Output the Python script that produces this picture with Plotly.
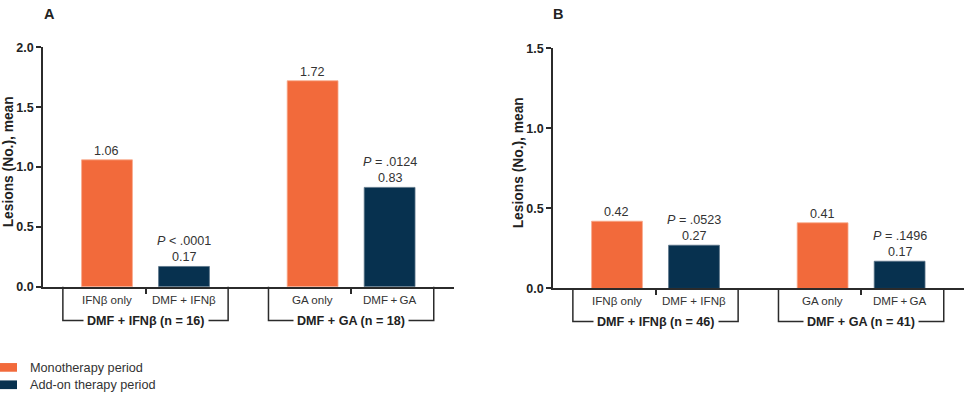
import plotly.graph_objects as go

# ---------------- data ----------------
categories = ["IFNβ only", "DMF + IFNβ", "GA only", "DMF\u2009+\u2009GA"]
groups_A = ["DMF + IFNβ (n = 16)", "DMF + GA (n = 18)"]
groups_B = ["DMF + IFNβ (n = 46)", "DMF + GA (n = 41)"]
mono_A = [1.06, 1.72]
addon_A = [0.17, 0.83]
p_A = ["&lt; .0001", "= .0124"]
mono_B = [0.42, 0.41]
addon_B = [0.27, 0.17]
p_B = ["= .0523", "= .1496"]
yticks_A = [0.0, 0.5, 1.0, 1.5, 2.0]
yticks_B = [0.0, 0.5, 1.0, 1.5]
series_names = ["Monotherapy period", "Add-on therapy period"]
y_title = "Lesions (No.), mean"

# ---------------- style ----------------
W, H = 965, 399
FONT = "Liberation Sans, Arial, sans-serif"
ORANGE = "#F26A3B"
NAVY = "#07314F"
TXT = "#333333"
AX = "#2b2b2b"

def px_x(p):
    return p / W

def px_y(p):
    return (H - p) / H

# layout positions of bars (x in axis units)
mono_pos = [0.0, 2.67]
addon_pos = [1.0, 3.67]
grp_centers = [0.5, 3.17]
bar_w = 0.66
x_range = [-0.831, 4.506]
half_br = 1.073

fig = go.Figure()

panels = [
    dict(x="x", y="y", xa="xaxis", ya="yaxis", mono=mono_A, addon=addon_A, p=p_A,
         groups=groups_A, yticks=yticks_A, xdom=[px_x(43), px_x(454)],
         ydom=[px_y(290), px_y(41.7)], yr=[0, 2.0], br_y=px_y(325), cat_y=px_y(302.7),
         label="A", lab_x=49, title_x=8.5, title_y=160.5),
    dict(x="x2", y="y2", xa="xaxis2", ya="yaxis2", mono=mono_B, addon=addon_B, p=p_B,
         groups=groups_B, yticks=yticks_B, xdom=[px_x(553), px_x(964)],
         ydom=[px_y(291.7), px_y(42.7)], yr=[0, 1.5], br_y=px_y(326), cat_y=px_y(304),
         label="B", lab_x=558, title_x=518, title_y=162),
]

annotations = []
shapes = []

for pn in panels:
    fig.add_trace(go.Bar(x=mono_pos, y=pn["mono"], width=bar_w, name=series_names[0],
                         marker=dict(color=ORANGE, line=dict(color="#F7A98C", width=0.8)),
                         xaxis=pn["x"], yaxis=pn["y"], showlegend=False, hoverinfo="y"))
    fig.add_trace(go.Bar(x=addon_pos, y=pn["addon"], width=bar_w, name=series_names[1],
                         marker=dict(color=NAVY, line=dict(color="#5B7388", width=0.8)),
                         xaxis=pn["x"], yaxis=pn["y"], showlegend=False, hoverinfo="y"))

    fig.layout[pn["xa"]] = dict(
        domain=pn["xdom"], range=x_range, anchor=pn["y"], showgrid=False, zeroline=False,
        showline=True, linecolor=AX, linewidth=1.5, ticks="outside", ticklen=5,
        tickwidth=1.5, tickcolor=AX, tickvals=grp_centers, showticklabels=False)
    fig.layout[pn["ya"]] = dict(
        domain=pn["ydom"], range=pn["yr"], anchor=pn["x"], showgrid=False, zeroline=False,
        showline=True, linecolor=AX, linewidth=1.5, ticks="outside", ticklen=5,
        tickwidth=1.5, tickcolor=AX, tickvals=pn["yticks"],
        ticktext=[f"{v:.1f}" for v in pn["yticks"]],
        tickfont=dict(family=FONT, size=12.5, color="#222222", weight="bold"))

    # value labels
    for xp, v in zip(mono_pos, pn["mono"]):
        annotations.append(dict(x=xp, y=v, xref=pn["x"], yref=pn["y"], text=f"{v:.2f}",
                                showarrow=False, yanchor="bottom", yshift=0,
                                font=dict(family=FONT, size=12.6, color=TXT)))
    for xp, v, p in zip(addon_pos, pn["addon"], pn["p"]):
        annotations.append(dict(x=xp, y=v, xref=pn["x"], yref=pn["y"],
                                text=f"<i>P</i> {p}<br>{v:.2f}",
                                showarrow=False, yanchor="bottom", yshift=0,
                                font=dict(family=FONT, size=12.6, color=TXT)))
    # category labels
    for xp, c in zip(mono_pos + addon_pos, [categories[0], categories[2], categories[1], categories[3]]):
        annotations.append(dict(x=xp, y=pn["cat_y"], xref=pn["x"], yref="paper", text=c,
                                showarrow=False, yanchor="middle",
                                font=dict(family=FONT, size=11.6, color=TXT)))
    # brackets
    for gc, gname in zip(grp_centers, pn["groups"]):
        x0, x1 = gc - half_br, gc + half_br
        y_top, y_b = pn["ydom"][0], pn["br_y"]
        shapes.append(dict(type="path", xref=pn["x"], yref="paper",
                           path=f"M {x0},{y_top} L {x0},{y_b} L {x1},{y_b} L {x1},{y_top}",
                           line=dict(color=AX, width=1.5)))
        annotations.append(dict(x=gc, y=y_b, xref=pn["x"], yref="paper", text=gname,
                                showarrow=False, yanchor="middle", bgcolor="white",
                                borderpad=3,
                                font=dict(family=FONT, size=12.6, color="#222222", weight="bold")))
    # panel label
    annotations.append(dict(x=px_x(pn["lab_x"]), y=px_y(7.5), xref="paper", yref="paper",
                            text=pn["label"], showarrow=False, xanchor="center", yanchor="middle",
                            font=dict(family=FONT, size=14.5, color="#222222", weight="bold")))
    # y title
    annotations.append(dict(x=px_x(pn["title_x"]), y=px_y(pn["title_y"]),
                            xref="paper", yref="paper", text=y_title, textangle=-90,
                            showarrow=False, xanchor="center", yanchor="middle",
                            font=dict(family=FONT, size=13.8, color="#222222", weight="bold")))

# legend (drawn manually)
leg = [(series_names[0], ORANGE, 369, 378, 374), (series_names[1], NAVY, 387, 396, 391.5)]
for name, col, t, b, c in leg:
    shapes.append(dict(type="rect", xref="paper", yref="paper", x0=0, x1=px_x(17),
                       y0=px_y(b), y1=px_y(t), fillcolor=col, line=dict(width=0)))
    annotations.append(dict(x=px_x(28), y=px_y(c), xref="paper", yref="paper", text=name,
                            showarrow=False, xanchor="left", yanchor="middle",
                            font=dict(family=FONT, size=12.7, color=TXT)))

fig.update_layout(
    width=W, height=H, margin=dict(l=0, r=0, t=0, b=0),
    plot_bgcolor="white", paper_bgcolor="white", barmode="overlay",
    annotations=annotations, shapes=shapes, showlegend=False,
    font=dict(family=FONT, color=TXT),
)

fig.write_html("out.html", config={"displayModeBar": False},
               post_script="document.body.style.margin='0';document.body.style.overflow='hidden';")
